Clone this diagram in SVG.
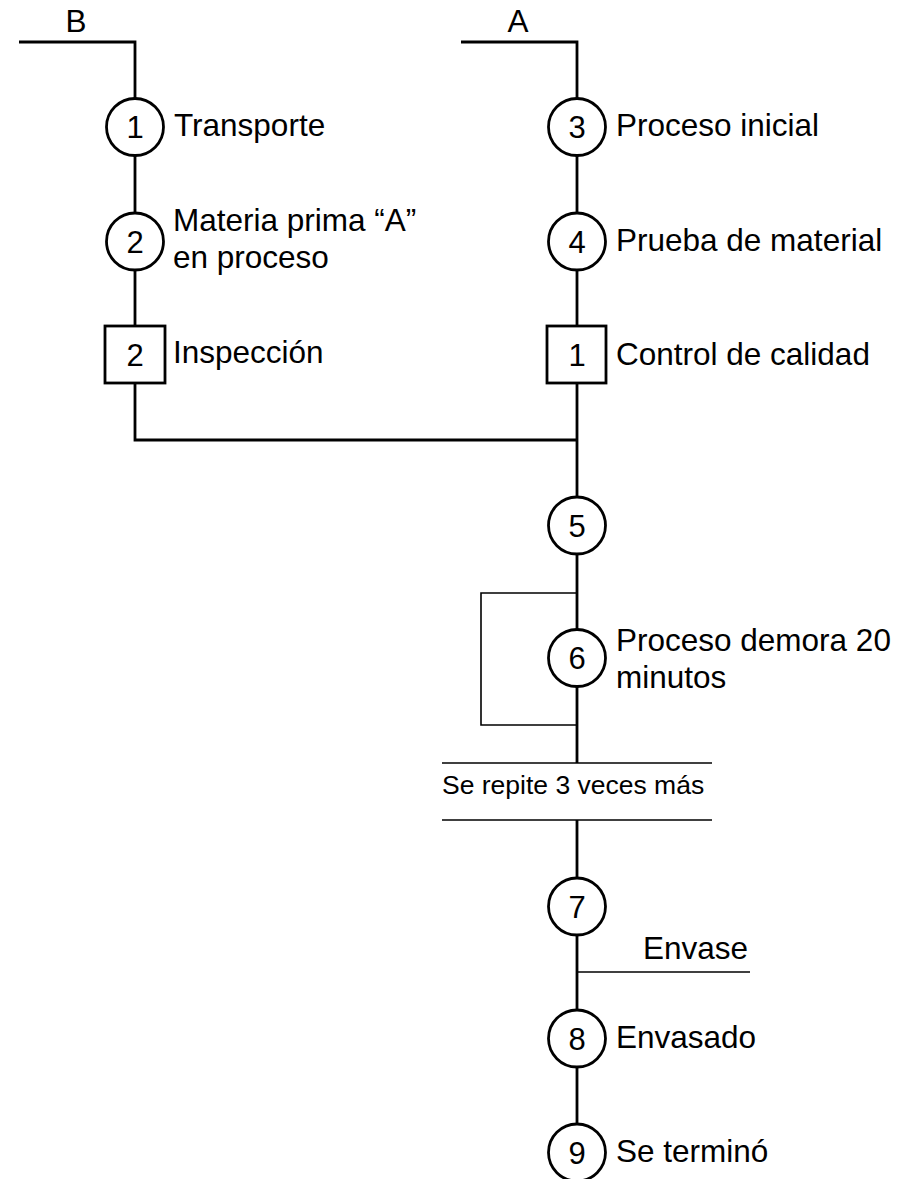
<svg xmlns="http://www.w3.org/2000/svg" width="907" height="1179" viewBox="0 0 907 1179">
<style>
.ln{stroke:#000;stroke-width:2.8;fill:none}
.thin{stroke:#000;stroke-width:1.6;fill:none}
.sym{stroke:#000;stroke-width:2.8;fill:#fff}
.num{font-family:"Liberation Sans",Arial,sans-serif;font-size:31px;fill:#000;text-anchor:middle}
.lbl{font-family:"Liberation Sans",Arial,sans-serif;font-size:31.5px;fill:#000}
</style>
<rect width="907" height="1179" fill="#fff"/>
<g id="connectors">
<polyline class="ln" points="19,42 135,42 135,440 577,440"/>
<polyline class="ln" points="461,42 577,42 577,763"/>
<line class="ln" x1="577" y1="820" x2="577" y2="1150"/>
<polyline class="thin" points="577,593 481,593 481,725 577,725"/>
<line class="thin" x1="442" y1="763" x2="712" y2="763"/>
<line class="thin" x1="442" y1="820" x2="712" y2="820"/>
<line class="thin" x1="577" y1="972" x2="750" y2="972"/>
<text class="lbl" x="76" y="32" text-anchor="middle">B</text>
<text class="lbl" x="518" y="32" text-anchor="middle">A</text>
<text class="lbl" x="442" y="794" style="font-size:26.5px">Se repite 3 veces más</text>
<text class="lbl" x="748" y="959" text-anchor="end">Envase</text>
</g>
<g id="n1"><circle class="sym" cx="135" cy="127" r="28.5"/><text class="num" x="135" y="138">1</text><text class="lbl" x="174" y="136">Transporte</text></g>
<g id="n2"><circle class="sym" cx="135" cy="241.5" r="28.5"/><text class="num" x="135" y="252.5">2</text><text class="lbl" x="173" y="231">Materia prima “A”</text><text class="lbl" x="173" y="268">en proceso</text></g>
<g id="i2"><rect class="sym" x="105" y="326" width="60" height="57"/><text class="num" x="135" y="365.5">2</text><text class="lbl" x="173" y="363">Inspección</text></g>
<g id="n3"><circle class="sym" cx="577" cy="127" r="28.5"/><text class="num" x="577" y="138">3</text><text class="lbl" x="616" y="136">Proceso inicial</text></g>
<g id="n4"><circle class="sym" cx="577" cy="241.5" r="28.5"/><text class="num" x="577" y="252.5">4</text><text class="lbl" x="616" y="251">Prueba de material</text></g>
<g id="i1"><rect class="sym" x="547" y="326" width="59" height="57"/><text class="num" x="577" y="365.5">1</text><text class="lbl" x="616" y="365">Control de calidad</text></g>
<g id="n5"><circle class="sym" cx="577" cy="525.5" r="28.5"/><text class="num" x="577" y="536.5">5</text></g>
<g id="n6"><circle class="sym" cx="577" cy="658" r="28.5"/><text class="num" x="577" y="669">6</text><text class="lbl" x="616" y="651">Proceso demora 20</text><text class="lbl" x="616" y="688">minutos</text></g>
<g id="n7"><circle class="sym" cx="577" cy="906.5" r="28.5"/><text class="num" x="577" y="917.5">7</text></g>
<g id="n8"><circle class="sym" cx="577" cy="1038.5" r="28.5"/><text class="num" x="577" y="1049.5">8</text><text class="lbl" x="616" y="1048">Envasado</text></g>
<g id="n9"><circle class="sym" cx="577" cy="1152.5" r="28.5"/><text class="num" x="577" y="1163.5">9</text><text class="lbl" x="616" y="1162">Se terminó</text></g>
</svg>
